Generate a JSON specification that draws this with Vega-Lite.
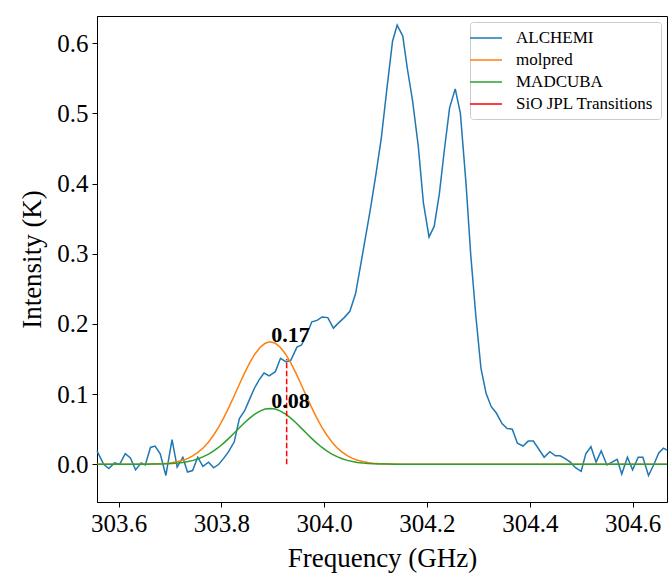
{
  "$schema": "https://vega.github.io/schema/vega-lite/v6.json",
  "width": 570,
  "height": 486,
  "autosize": {"type": "none"},
  "padding": {"left": 97, "top": 16, "right": 4, "bottom": 73},
  "background": "white",
  "datasets": {
    "alchemi": [
      {"f":303.558,"v":0.019},{"f":303.571,"v":0.000},{"f":303.581,"v":-0.006},{"f":303.592,"v":0.002},
      {"f":303.602,"v":0.000},{"f":303.613,"v":0.015},{"f":303.623,"v":0.009},{"f":303.633,"v":-0.008},
      {"f":303.644,"v":0.002},{"f":303.652,"v":-0.001},{"f":303.662,"v":0.024},{"f":303.671,"v":0.026},
      {"f":303.681,"v":0.015},{"f":303.692,"v":-0.016},{"f":303.704,"v":0.035},{"f":303.714,"v":-0.004},
      {"f":303.725,"v":0.010},{"f":303.734,"v":-0.011},{"f":303.744,"v":-0.009},{"f":303.754,"v":0.010},
      {"f":303.764,"v":-0.003},{"f":303.775,"v":0.003},{"f":303.785,"v":-0.005},{"f":303.795,"v":0.000},
      {"f":303.804,"v":0.008},{"f":303.814,"v":0.018},{"f":303.825,"v":0.032},{"f":303.835,"v":0.065},
      {"f":303.845,"v":0.076},{"f":303.854,"v":0.091},{"f":303.864,"v":0.108},{"f":303.874,"v":0.121},
      {"f":303.883,"v":0.130},{"f":303.893,"v":0.126},{"f":303.905,"v":0.132},{"f":303.915,"v":0.151},
      {"f":303.926,"v":0.146},{"f":303.935,"v":0.148},{"f":303.947,"v":0.167},{"f":303.956,"v":0.170},
      {"f":303.966,"v":0.185},{"f":303.976,"v":0.203},{"f":303.986,"v":0.205},{"f":303.996,"v":0.210},
      {"f":304.007,"v":0.209},{"f":304.018,"v":0.194},{"f":304.028,"v":0.2015},{"f":304.039,"v":0.209},
      {"f":304.050,"v":0.218},{"f":304.061,"v":0.243},{"f":304.070,"v":0.280},{"f":304.080,"v":0.322},
      {"f":304.090,"v":0.364},{"f":304.100,"v":0.410},{"f":304.111,"v":0.464},{"f":304.122,"v":0.535},
      {"f":304.133,"v":0.603},{"f":304.142,"v":0.626},{"f":304.153,"v":0.610},{"f":304.162,"v":0.563},
      {"f":304.172,"v":0.518},{"f":304.183,"v":0.454},{"f":304.193,"v":0.373},{"f":304.204,"v":0.324},
      {"f":304.214,"v":0.339},{"f":304.224,"v":0.385},{"f":304.234,"v":0.449},{"f":304.244,"v":0.508},
      {"f":304.255,"v":0.535},{"f":304.265,"v":0.500},{"f":304.276,"v":0.400},{"f":304.285,"v":0.300},
      {"f":304.295,"v":0.212},{"f":304.305,"v":0.137},{"f":304.315,"v":0.101},{"f":304.325,"v":0.082},
      {"f":304.335,"v":0.073},{"f":304.346,"v":0.058},{"f":304.356,"v":0.051},{"f":304.366,"v":0.050},
      {"f":304.376,"v":0.030},{"f":304.387,"v":0.026},{"f":304.397,"v":0.033},{"f":304.407,"v":0.033},
      {"f":304.419,"v":0.020},{"f":304.428,"v":0.010},{"f":304.439,"v":0.018},{"f":304.450,"v":0.012},
      {"f":304.459,"v":0.012},{"f":304.469,"v":0.008},{"f":304.479,"v":0.003},{"f":304.489,"v":-0.005},
      {"f":304.500,"v":-0.010},{"f":304.509,"v":0.015},{"f":304.519,"v":0.025},{"f":304.529,"v":0.003},
      {"f":304.539,"v":0.019},{"f":304.550,"v":-0.001},{"f":304.560,"v":0.003},{"f":304.570,"v":0.007},
      {"f":304.579,"v":-0.014},{"f":304.590,"v":0.010},{"f":304.600,"v":-0.008},{"f":304.611,"v":0.010},
      {"f":304.620,"v":0.010},{"f":304.631,"v":-0.016},{"f":304.641,"v":-0.001},{"f":304.651,"v":0.016},
      {"f":304.660,"v":0.023},{"f":304.667,"v":0.020}
    ],
    "models": [
      {"f":303.558,"m":0,"g":0},{"f":303.595,"m":0,"g":0},{"f":303.635,"m":0.0001,"g":0},
      {"f":303.655,"m":0.0002,"g":0.0001},{"f":303.665,"m":0.0003,"g":0.0002},{"f":303.675,"m":0.0006,"g":0.0003},
      {"f":303.685,"m":0.0009,"g":0.0004},{"f":303.695,"m":0.0015,"g":0.0007},{"f":303.705,"m":0.0024,"g":0.0011},
      {"f":303.715,"m":0.0038,"g":0.0017},{"f":303.725,"m":0.0057,"g":0.0026},{"f":303.735,"m":0.0084,"g":0.0038},
      {"f":303.745,"m":0.0122,"g":0.0055},{"f":303.755,"m":0.0172,"g":0.0078},{"f":303.765,"m":0.0236,"g":0.0108},
      {"f":303.775,"m":0.0317,"g":0.0145},{"f":303.785,"m":0.0417,"g":0.0190},{"f":303.795,"m":0.0534,"g":0.0243},
      {"f":303.805,"m":0.0669,"g":0.0305},{"f":303.815,"m":0.0818,"g":0.0373},{"f":303.825,"m":0.0977,"g":0.0445},
      {"f":303.835,"m":0.1140,"g":0.0519},{"f":303.845,"m":0.1298,"g":0.0591},{"f":303.855,"m":0.1444,"g":0.0658},
      {"f":303.865,"m":0.1569,"g":0.0715},{"f":303.875,"m":0.1664,"g":0.0758},{"f":303.885,"m":0.1724,"g":0.0786},
      {"f":303.895,"m":0.1745,"g":0.0795},{"f":303.905,"m":0.1724,"g":0.0786},{"f":303.915,"m":0.1664,"g":0.0758},
      {"f":303.925,"m":0.1569,"g":0.0715},{"f":303.935,"m":0.1444,"g":0.0658},{"f":303.945,"m":0.1298,"g":0.0591},
      {"f":303.955,"m":0.1140,"g":0.0519},{"f":303.965,"m":0.0977,"g":0.0445},{"f":303.975,"m":0.0818,"g":0.0373},
      {"f":303.985,"m":0.0669,"g":0.0305},{"f":303.995,"m":0.0534,"g":0.0243},{"f":304.005,"m":0.0417,"g":0.0190},
      {"f":304.015,"m":0.0317,"g":0.0145},{"f":304.025,"m":0.0236,"g":0.0108},{"f":304.035,"m":0.0172,"g":0.0078},
      {"f":304.045,"m":0.0122,"g":0.0055},{"f":304.055,"m":0.0084,"g":0.0038},{"f":304.065,"m":0.0057,"g":0.0026},
      {"f":304.075,"m":0.0038,"g":0.0017},{"f":304.085,"m":0.0024,"g":0.0011},{"f":304.095,"m":0.0015,"g":0.0007},
      {"f":304.105,"m":0.0009,"g":0.0004},{"f":304.115,"m":0.0006,"g":0.0003},{"f":304.125,"m":0.0003,"g":0.0002},
      {"f":304.135,"m":0.0002,"g":0.0001},{"f":304.155,"m":0.0001,"g":0},{"f":304.195,"m":0,"g":0},
      {"f":304.667,"m":0,"g":0}
    ],
    "transitions": [{"f":303.927,"y0":0,"y1":0.15}],
    "peaks": [{"f":303.895,"v":0.1745,"label":"0.17"},{"f":303.895,"v":0.0795,"label":"0.08"}]
  },
  "encoding": {
    "x": {"field":"f","type":"quantitative","scale":{"domain":[303.558,304.667],"nice":false,"zero":false},
      "axis":{"title":"Frequency (GHz)","values":[303.6,303.8,304.0,304.2,304.4,304.6],"format":".1f"}}
  },
  "layer": [
    {
      "data": {"name":"alchemi"},
      "mark": {"type":"line","strokeWidth":1.5},
      "encoding": {
        "y": {"field":"v","type":"quantitative","scale":{"domain":[-0.0538,0.6389],"nice":false,"zero":false},
          "axis":{"title":"Intensity (K)","values":[0,0.1,0.2,0.3,0.4,0.5,0.6],"format":".1f"}},
        "color": {"datum":"ALCHEMI","type":"nominal"}
      }
    },
    {
      "data": {"name":"models"},
      "mark": {"type":"line","strokeWidth":1.5},
      "encoding": {
        "y": {"field":"m","type":"quantitative"},
        "color": {"datum":"molpred","type":"nominal"}
      }
    },
    {
      "data": {"name":"models"},
      "mark": {"type":"line","strokeWidth":1.5},
      "encoding": {
        "y": {"field":"g","type":"quantitative"},
        "color": {"datum":"MADCUBA","type":"nominal"}
      }
    },
    {
      "data": {"name":"transitions"},
      "mark": {"type":"rule","strokeWidth":1.5,"strokeDash":[5.5,2.5]},
      "encoding": {
        "y": {"field":"y0","type":"quantitative"},
        "y2": {"field":"y1"},
        "color": {"datum":"SiO JPL Transitions","type":"nominal"}
      }
    },
    {
      "data": {"name":"peaks"},
      "mark": {"type":"text","align":"left","baseline":"alphabetic","font":"Liberation Serif","fontWeight":"bold","fontSize":22,"color":"black","dx":1},
      "encoding": {
        "y": {"field":"v","type":"quantitative"},
        "text": {"field":"label"}
      }
    }
  ],
  "resolve": {"scale": {"color": "shared"}},
  "config": {
    "view": {"stroke":"black","strokeWidth":1},
    "range": {"category": ["#1f77b4","#ff7f0e","#2ca02c","#ff0000"]},
    "axis": {
      "grid": false,
      "domainColor":"black","domainWidth":1,
      "tickColor":"black","tickWidth":1,"tickSize":5,
      "labelFont":"Liberation Serif","labelFontSize":25,"labelColor":"black",
      "titleFont":"Liberation Serif","titleFontSize":27,"titleFontWeight":"normal","titleColor":"black"
    },
    "axisX": {"labelPadding":4,"titlePadding":9},
    "axisY": {"labelPadding":4,"titlePadding":10},
    "legend": {
      "orient":"none","legendX":373,"legendY":6,
      "title":null,
      "symbolType":"M-2,0H2","symbolSize":256,"symbolStrokeWidth":1.5,"symbolFillColor":"transparent",
      "labelFont":"Liberation Serif","labelFontSize":17,"labelColor":"black","labelOffset":21,
      "padding":7,"rowPadding":5,
      "fillColor":"rgba(255,255,255,0.8)","strokeColor":"#cccccc","cornerRadius":3
    }
  }
}
